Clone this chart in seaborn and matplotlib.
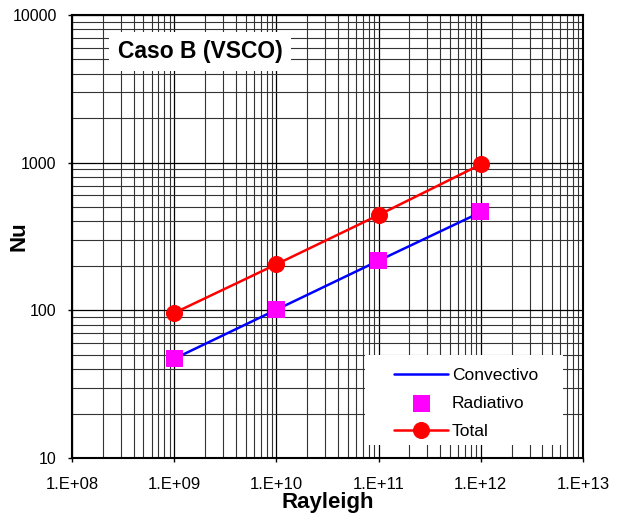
import pandas as pd
import seaborn as sns
import matplotlib.pyplot as plt
from matplotlib.patches import Rectangle
from matplotlib.ticker import LogLocator, FuncFormatter

# datos del caso B
rayleigh = [1e9, 1e10, 1e11, 1e12]
nu_convectivo = [47, 101, 217, 462]
nu_radiativo = [47.3, 101.6, 219, 465]
nu_total = [96, 205, 442, 973]

x_ticks = [1e8, 1e9, 1e10, 1e11, 1e12, 1e13]
x_tick_labels = ['1.E+08', '1.E+09', '1.E+10', '1.E+11', '1.E+12', '1.E+13']
y_ticks = [10, 100, 1000, 10000]
y_tick_labels = ['10', '100', '1000', '10000']

df = pd.DataFrame({'Ra': rayleigh, 'conv': nu_convectivo,
                   'rad': nu_radiativo, 'total': nu_total})

sns.set_style('white')
plt.rcParams['font.family'] = ['Liberation Sans', 'DejaVu Sans']
plt.rcParams['text.color'] = 'black'
plt.rcParams['axes.labelcolor'] = 'black'
plt.rcParams['xtick.color'] = 'black'
plt.rcParams['ytick.color'] = 'black'

fig = plt.figure(figsize=(6.17, 5.16), dpi=100)
ax = fig.add_axes([0.1167, 0.1124, 0.8283, 0.8586])

sns.lineplot(x='Ra', y='conv', data=df, ax=ax, color='#0000ff', lw=1.8,
             label='Convectivo', zorder=3)
sns.scatterplot(x='Ra', y='rad', data=df, ax=ax, color='#ff00ff', marker='s',
                s=150, edgecolor='none', label='Radiativo', zorder=4)
sns.lineplot(x='Ra', y='total', data=df, ax=ax, color='#ff0000', lw=1.8,
             marker='o', markersize=11.5, markeredgecolor='#ff0000',
             label='Total', zorder=5)

ax.set_xscale('log')
ax.set_yscale('log')
ax.set_xlim(1e8, 1e13)
ax.set_ylim(10, 10000)

ax.set_xticks(x_ticks)
ax.set_xticklabels(x_tick_labels, fontsize=12)
ax.set_yticks(y_ticks)
ax.set_yticklabels(y_tick_labels, fontsize=11.5)
ax.xaxis.set_minor_locator(LogLocator(base=10, subs=range(2, 10), numticks=50))
ax.yaxis.set_minor_locator(LogLocator(base=10, subs=range(2, 10), numticks=50))
ax.xaxis.set_minor_formatter(FuncFormatter(lambda v, p: ''))
ax.yaxis.set_minor_formatter(FuncFormatter(lambda v, p: ''))

ax.grid(True, which='major', color='black', lw=0.9)
ax.grid(True, which='minor', color='#333333', lw=0.8)
ax.tick_params(which='major', direction='out', length=3, width=1, color='black',
               bottom=True, left=True)
ax.tick_params(axis='x', which='major', pad=11)
ax.tick_params(axis='y', which='major', pad=8)
ax.tick_params(which='minor', length=0)
for s in ax.spines.values():
    s.set_color('black')
    s.set_linewidth(1.5)

ax.set_xlabel('Rayleigh', fontsize=16, fontweight='bold')
ax.set_ylabel('Nu', fontsize=16, fontweight='bold')
ax.xaxis.set_label_coords(0.5, -0.077)
ax.yaxis.set_label_coords(-0.084, 0.5)

ax.text(0.2505, 0.918, 'Caso B (VSCO)', transform=ax.transAxes, fontsize=16.5,
        fontweight='bold', ha='center', va='center', zorder=6,
        bbox=dict(facecolor='white', edgecolor='none', pad=6))

# caja blanca de la leyenda
ax.add_patch(Rectangle((0.5734, 0.0293), 0.3875, 0.2032, transform=ax.transAxes,
                       facecolor='white', edgecolor='none', zorder=6))
leg = ax.legend(loc='center left', bbox_to_anchor=(0.614, 0.124), fontsize=12.5,
                frameon=False, borderpad=0, handlelength=3.1,
                labelspacing=0.74, handletextpad=0.2)
leg.set_zorder(7)

fig.savefig('out.png', dpi=100)
